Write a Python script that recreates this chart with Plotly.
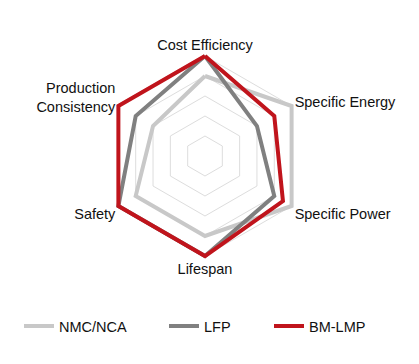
import plotly.graph_objects as go

categories = ["Cost Efficiency", "Specific Energy", "Specific Power", "Lifespan", "Safety", "Production<br>Consistency"]
nmc = [4, 5, 5, 4, 4, 3]
lfp = [5, 3, 4, 5, 5, 4]
bmlmp = [5, 4, 4.5, 5, 5, 5]

series = [("NMC/NCA", nmc, "#c8c8c8"), ("LFP", lfp, "#808080"), ("BM-LMP", bmlmp, "#c0141c")]
legend_ids = ["legend", "legend2", "legend3"]
legend_x = [11, 156, 261]

fig = go.Figure()
for (name, vals, col), lid in zip(series, legend_ids):
    fig.add_trace(go.Scatterpolar(
        r=vals + vals[:1], theta=categories + categories[:1], name=name,
        mode="lines", line=dict(color=col, width=4), cliponaxis=False, legend=lid))

leg_common = dict(orientation="h", xanchor="left", y=0.126, yanchor="middle",
                  font=dict(size=14.5, color="#111"), itemwidth=30, bgcolor="rgba(0,0,0,0)")

fig.update_layout(
    width=419, height=364,
    margin=dict(l=0, r=0, t=0, b=0),
    paper_bgcolor="white", plot_bgcolor="white",
    font=dict(family="Liberation Sans, Arial", size=14.5, color="#111"),
    polar=dict(
        domain=dict(x=[0.2243, 0.7160], y=[0.3104, 0.8764]),
        bgcolor="white",
        gridshape="linear",
        radialaxis=dict(range=[0, 5.15], tickvals=[1, 2, 3, 4, 5], showticklabels=False,
                        showline=False, ticks="", gridcolor="#dddddd", gridwidth=1),
        angularaxis=dict(direction="clockwise", rotation=90, showgrid=False,
                         showline=False, ticks="",
                         tickfont=dict(size=14.5, color="#111")),
    ),
    legend=dict(x=legend_x[0] / 419, **leg_common),
    legend2=dict(x=legend_x[1] / 419, **leg_common),
    legend3=dict(x=legend_x[2] / 419, **leg_common),
    showlegend=True,
)

fig.write_html("out.html")
